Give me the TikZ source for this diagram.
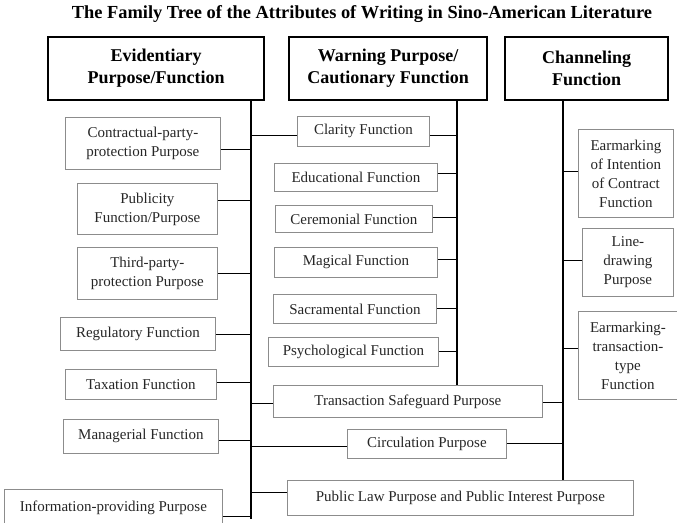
\documentclass[tikz,border=0pt]{standalone}
\usepackage{fontspec}
\setmainfont{Liberation Serif}
\begin{document}
\begin{tikzpicture}[x=1pt,y=-1pt,
  box/.style={draw=black!45,line width=0.8pt,anchor=north west,inner sep=0pt,align=center,
    font=\fontsize{15}{19}\selectfont,text=black!85},
  head/.style={draw=black,line width=2.2pt,anchor=north west,inner sep=0pt,align=center,
    font=\fontsize{18}{22}\selectfont\bfseries},
  spine/.style={line width=1.8pt},
  conn/.style={line width=1.6pt}]
\useasboundingbox (0,0) rectangle (677,522);
\node[font=\fontsize{18.4}{20}\selectfont\bfseries] (title) at (362,14) {The Family Tree of the Attributes of Writing in Sino-American Literature};
% headers
\node[head,minimum width=216pt,minimum height=63pt] (ev) at (47,36) {Evidentiary\\Purpose/Function};
\node[head,minimum width=198pt,minimum height=63pt] (wa) at (288,36) {Warning Purpose/\\Cautionary Function};
\node[head,minimum width=163pt,minimum height=63pt] (ch) at (504,36) {Channeling\\Function};
% spine ends
\coordinate (evb) at (251,519);
\coordinate (wab) at (457,385);
\coordinate (chb) at (563,480);
\draw[spine] (evb |- ev.south) -- (evb);
\draw[spine] (wab |- wa.south) -- (wab);
\draw[spine] (chb |- ch.south) -- (chb);
% left boxes
\node[box,minimum width=155pt,minimum height=52pt] (cpp) at (65,117) {Contractual-party-\\protection Purpose};
\node[box,minimum width=140pt,minimum height=51pt] (pub) at (77,183) {Publicity\\Function/Purpose};
\node[box,minimum width=140pt,minimum height=52pt] (tpp) at (77,247) {Third-party-\\protection Purpose};
\node[box,minimum width=155pt,minimum height=33pt] (reg) at (60,317) {Regulatory Function};
\node[box,minimum width=151pt,minimum height=30pt] (tax) at (65,369) {Taxation Function};
\node[box,minimum width=155pt,minimum height=34pt] (man) at (63,419) {Managerial Function};
\node[box,minimum width=218pt,minimum height=36pt] (info) at (4,489) {Information-providing Purpose};
% middle boxes
\node[box,minimum width=132pt,minimum height=30pt] (cla) at (297,116) {Clarity Function};
\node[box,minimum width=163pt,minimum height=28pt] (edu) at (274,163) {Educational Function};
\node[box,minimum width=157pt,minimum height=27pt] (cer) at (275,205) {Ceremonial Function};
\node[box,minimum width=163pt,minimum height=30pt] (mag) at (274,247) {Magical Function};
\node[box,minimum width=163pt,minimum height=29pt] (sac) at (273,294) {Sacramental Function};
\node[box,minimum width=170pt,minimum height=29pt] (psy) at (268,337) {Psychological Function};
\node[box,minimum width=269pt,minimum height=32pt] (tsp) at (273,385) {Transaction Safeguard Purpose};
\node[box,minimum width=159pt,minimum height=29pt] (cir) at (347,429) {Circulation Purpose};
\node[box,minimum width=346pt,minimum height=35pt] (pla) at (287,480) {Public Law Purpose and Public Interest Purpose};
% right boxes
\node[box,minimum width=95pt,minimum height=88pt] (eic) at (578,129) {Earmarking\\of Intention\\of Contract\\Function};
\node[box,minimum width=91pt,minimum height=68pt] (lin) at (582,228) {Line-\\drawing\\Purpose};
\node[box,minimum width=99pt,minimum height=88pt] (ett) at (578,311) {Earmarking-\\transaction-\\type\\Function};
% connectors
\newcommand\conn[3]{\path ([yshift=#2]#1) coordinate (tmp); \draw[conn] (tmp) -- (tmp -| #3);}
\conn{cpp.east}{-6pt}{evb}
\conn{pub.east}{8.5pt}{evb}
\conn{tpp.east}{0pt}{evb}
\conn{reg.east}{-0.5pt}{evb}
\conn{tax.east}{2pt}{evb}
\conn{man.east}{-4pt}{evb}
\conn{info.east}{-9pt}{evb}
\conn{cla.west}{-4pt}{evb}
\conn{cla.east}{-4pt}{wab}
\conn{edu.east}{4pt}{wab}
\conn{cer.east}{1.5pt}{wab}
\conn{mag.east}{3pt}{wab}
\conn{sac.east}{0.5pt}{wab}
\conn{psy.east}{0.5pt}{wab}
\conn{tsp.west}{-2pt}{evb}
\conn{tsp.east}{-1pt}{chb}
\conn{cir.west}{-2.5pt}{evb}
\conn{cir.east}{0.5pt}{chb}
\conn{pla.west}{5.5pt}{evb}
\conn{eic.west}{2pt}{chb}
\conn{lin.west}{2pt}{chb}
\conn{ett.west}{7pt}{chb}
\end{tikzpicture}
\end{document}
